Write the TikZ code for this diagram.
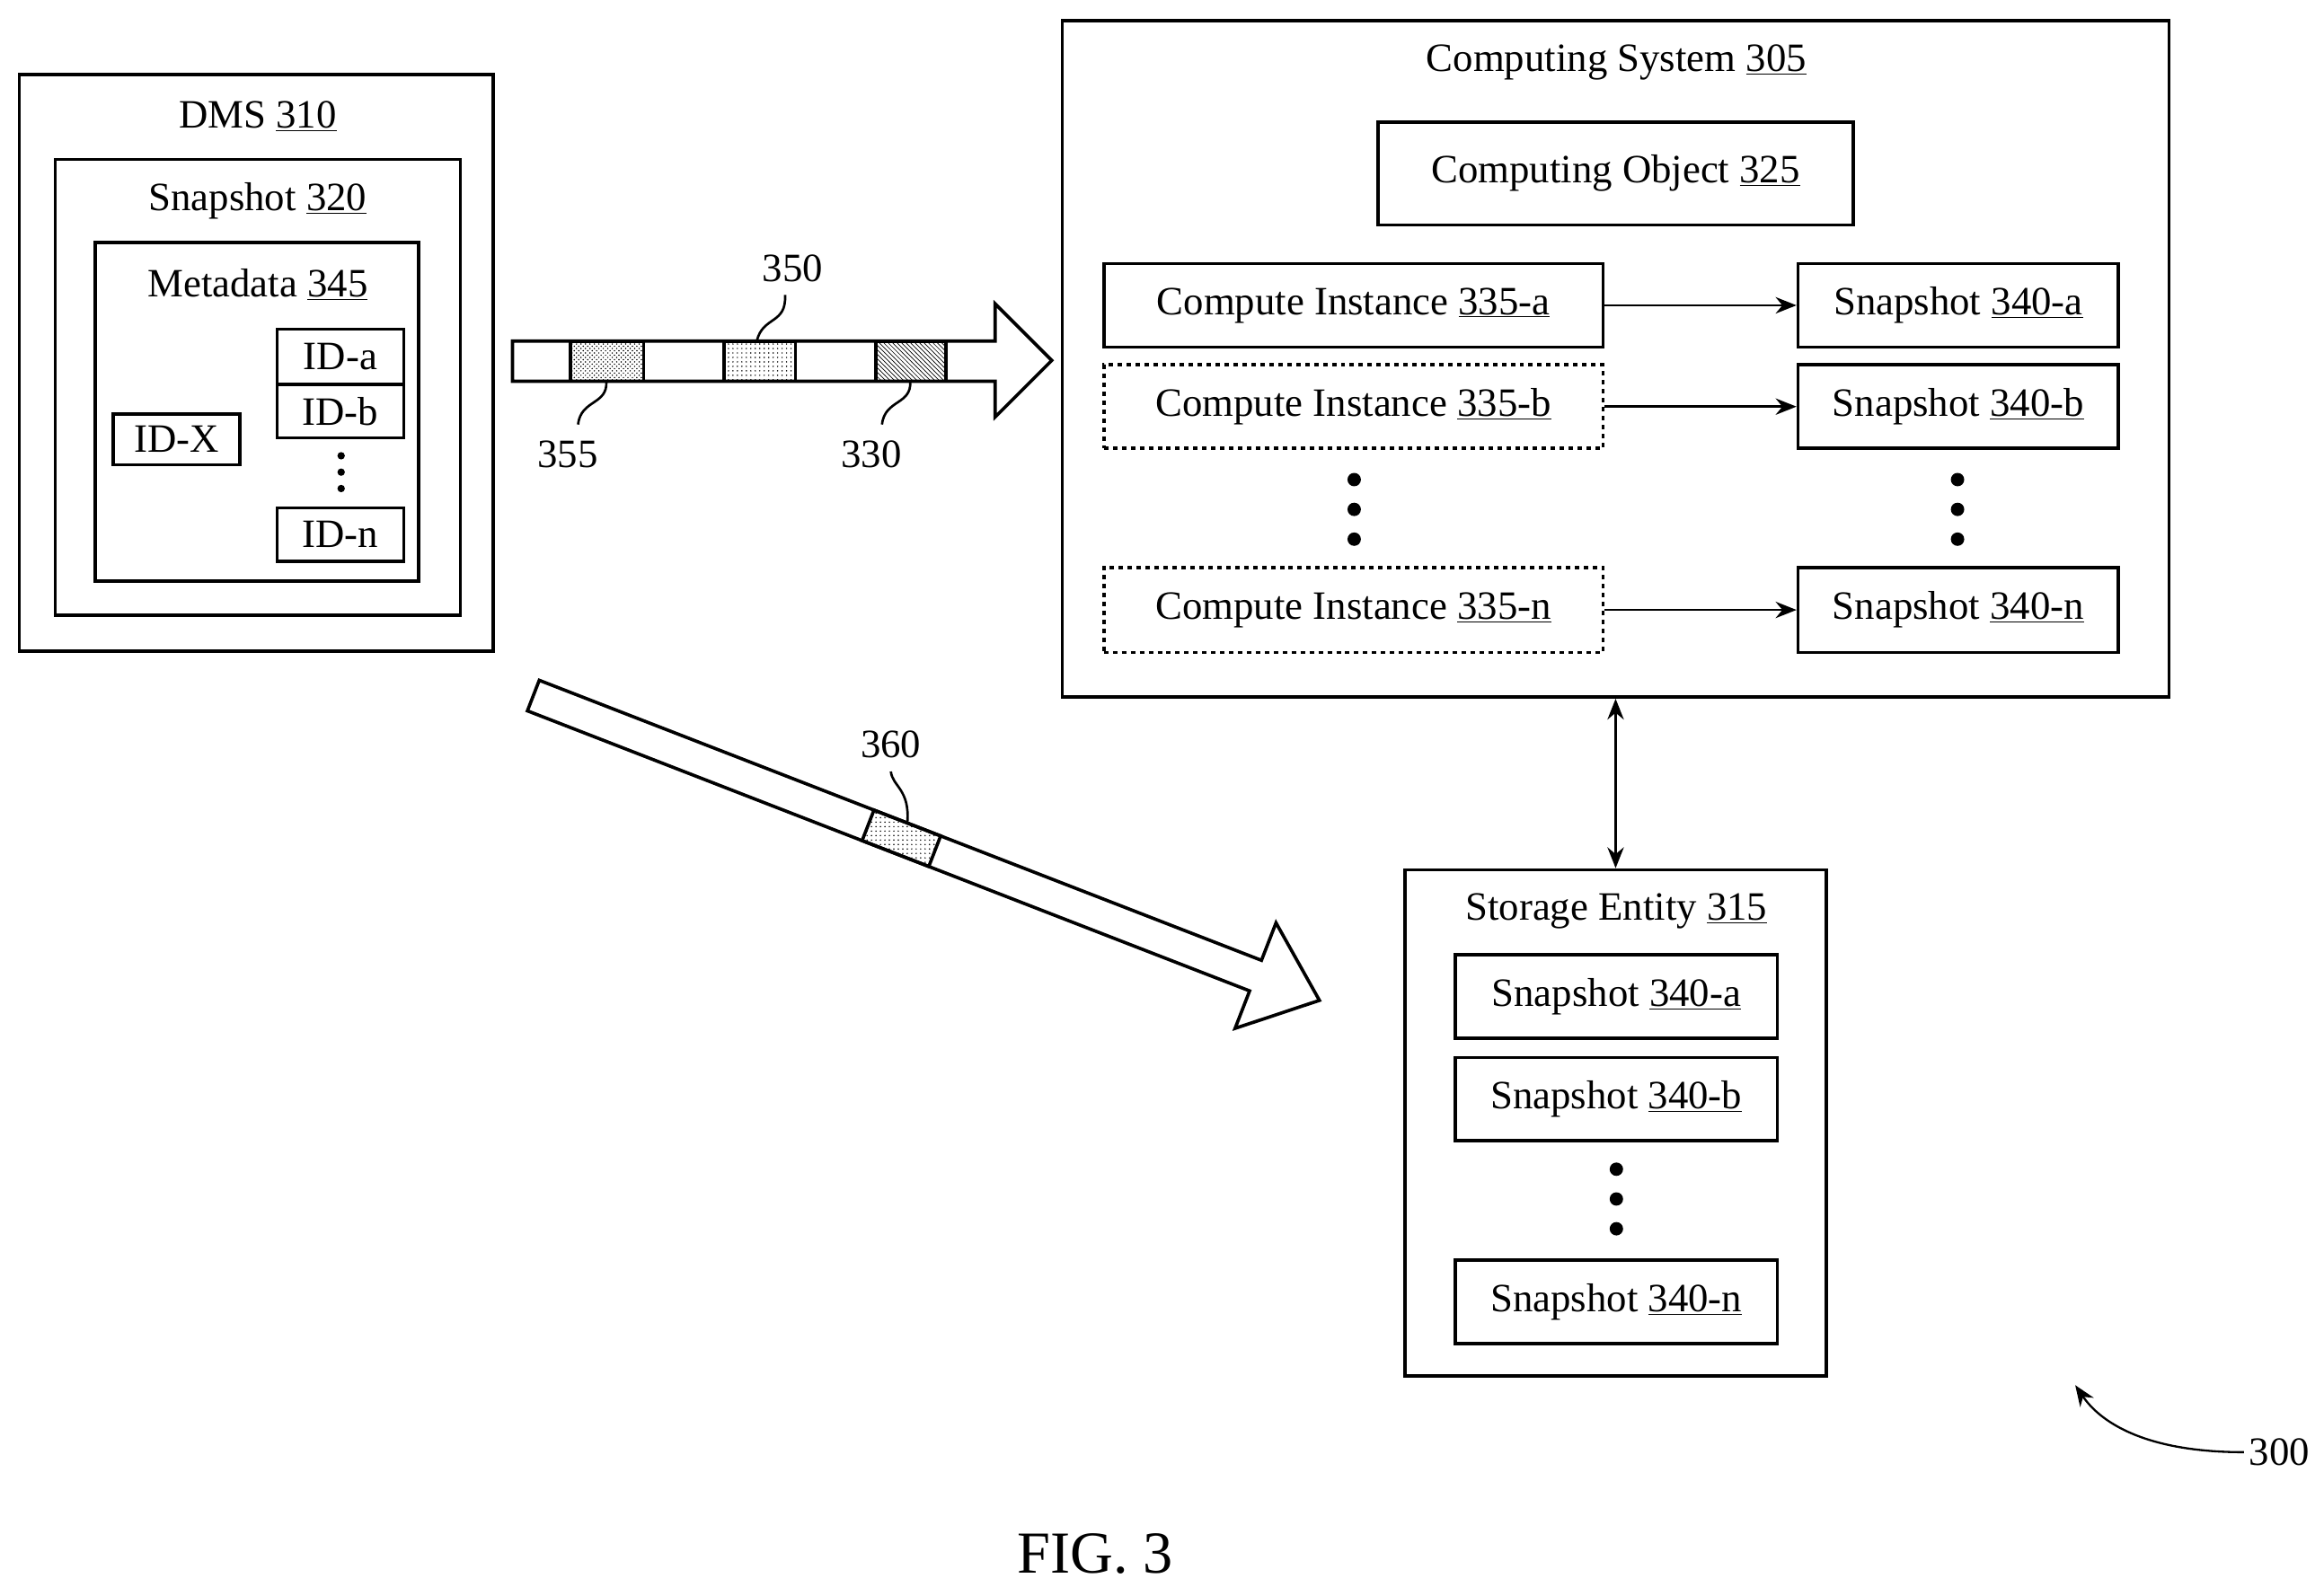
\documentclass[tikz,border=0pt]{standalone}
\usepackage{fontspec}
\setmainfont{Liberation Serif}
\usetikzlibrary{arrows.meta,patterns,positioning}
\newcommand{\num}[1]{\underline{#1}}

\begin{document}
\begin{tikzpicture}[x=1pt,y=-1pt,
    box/.style = {draw, line width=2.2pt, inner sep=0pt},
    item/.style = {box, font=\fontsize{27}{30}\selectfont},
    title/.style = {font=\fontsize{27}{30}\selectfont},
    ref/.style = {font=\fontsize{27}{30}\selectfont},
    dot/.style = {circle, fill, inner sep=0pt, minimum size=9pt},
    lead/.style = {line width=1.6pt},
    flow/.style = {-{Stealth[length=14pt,width=11pt]}, line width=1.6pt}]
  \useasboundingbox (0,0) rectangle (1560,1065);

  % DMS side
  \node[box, minimum width=318pt, minimum height=387pt] (dms) at (172,243.5) {};
  \node[title] (dmst) at (173,78) {DMS \num{310}};
  \node[box, minimum width=272pt, minimum height=306pt] (snap) at (173,260) {};
  \node[title] (snapt) at (173,135) {Snapshot \num{320}};
  \node[box, minimum width=217pt, minimum height=227pt] (meta) at (172.5,276.5) {};
  \node[title] (metat) at (173,191) {Metadata \num{345}};
  \node[item, minimum width=85pt, minimum height=37pt] (ida) at (228.5,239.5) {ID-a};
  \node[item, minimum width=85pt, minimum height=36pt] (idb) at (228.5,276) {ID-b};
  \node[item, minimum width=85pt, minimum height=36pt] (idn) at (228.5,359) {ID-n};
  \node[item, minimum width=85pt, minimum height=34pt] (idx) at (118.5,295) {ID-X};
  \foreach \y in {306,317,328} \node[dot, minimum size=5pt] at (229,\y) {};

  % data stream to computing system
  \draw[box] (344,229) -- (668,229) -- (668,204) -- (706,242) -- (668,280) -- (668,256) -- (344,256) -- cycle;
  \draw[box, pattern=crosshatch dots] (383,229) rectangle (432,256);
  \draw[box, pattern=dots] (486,229) rectangle (534,256);
  \draw[box, pattern=north west lines] (588,229) rectangle (635,256);
  \node[ref] (r350) at (532,180) {350};
  \node[ref] (r355) at (381,305) {355};
  \node[ref] (r330) at (585,305) {330};
  \draw[lead] (508,229) .. controls (512,212) and (528,218) .. (527,198);
  \draw[lead] (407,256) .. controls (408,272) and (390,268) .. (388,285);
  \draw[lead] (611,256) .. controls (612,272) and (594,268) .. (592,285);

  % computing system
  \node[box, minimum width=743pt, minimum height=454pt] (cs) at (1084.5,241) {};
  \node[title] (cst) at (1085,42) {Computing System \num{305}};
  \node[item, minimum width=319pt, minimum height=69pt] (obj) at (1084.5,116.5) {Computing Object \num{325}};
  \node[item, minimum width=335pt, minimum height=56pt] (cia) at (908.5,205) {Compute Instance \num{335-a}};
  \node[item, dashed, minimum width=335pt, minimum height=56pt] (cib) at (908.5,273) {Compute Instance \num{335-b}};
  \node[item, dashed, minimum width=335pt, minimum height=57pt] (cin) at (908.5,409.5) {Compute Instance \num{335-n}};
  \node[item, minimum width=215pt, minimum height=56pt] (sa) at (1314.5,205) {Snapshot \num{340-a}};
  \node[item, minimum width=215pt, minimum height=56pt] (sb) at (1314.5,273) {Snapshot \num{340-b}};
  \node[item, minimum width=215pt, minimum height=57pt] (sn) at (1314.5,409.5) {Snapshot \num{340-n}};
  \foreach \y in {322,342,362} {
    \node[dot] at (909,\y) {};
    \node[dot] at (1314,\y) {};
  }
  \draw[flow] (cia) -- (sa);
  \draw[flow] (cib) -- (sb);
  \draw[flow] (cin) -- (sn);

  % storage entity
  \node[box, minimum width=283pt, minimum height=340pt] (se) at (1084.5,754) {};
  \node[title] (set) at (1085,612) {Storage Entity \num{315}};
  \node[item, minimum width=216pt, minimum height=56pt] (ssa) at (1085,669) {Snapshot \num{340-a}};
  \node[item, minimum width=216pt, minimum height=56pt] (ssb) at (1085,738) {Snapshot \num{340-b}};
  \node[item, minimum width=216pt, minimum height=56pt] (ssn) at (1085,874) {Snapshot \num{340-n}};
  \foreach \y in {785,805,825} \node[dot] at (1085,\y) {};
  \draw[{Stealth[length=14pt,width=11pt]}-{Stealth[length=14pt,width=11pt]}, line width=1.6pt] (cs.south -| se) -- (se.north);

  % data stream to storage entity
  \begin{scope}[shift={(358,467)}, rotate=-21.2]
    \draw[box] (0,-11) -- (520,-11) -- (520,-38) -- (566,0) -- (520,38) -- (520,11) -- (0,11) -- cycle;
    \draw[box, pattern=dots] (241,-11) rectangle (289,11);
    \coordinate (p360) at (265,-11);
  \end{scope}
  \node[ref] (r360) at (598,500) {360};
  \draw[lead] (p360) .. controls (611,530) and (599,528) .. (598,518);

  % figure reference
  \node[ref] (r300) at (1530,975) {300};
  \draw[-{Stealth[length=14pt,width=11pt]}, line width=1.4pt] (r300.west) .. controls (1440,975) and (1410,955) .. (1393,930);
  \node[font=\fontsize{40}{44}\selectfont] (fig) at (735,1043) {FIG. 3};
\end{tikzpicture}
\end{document}
